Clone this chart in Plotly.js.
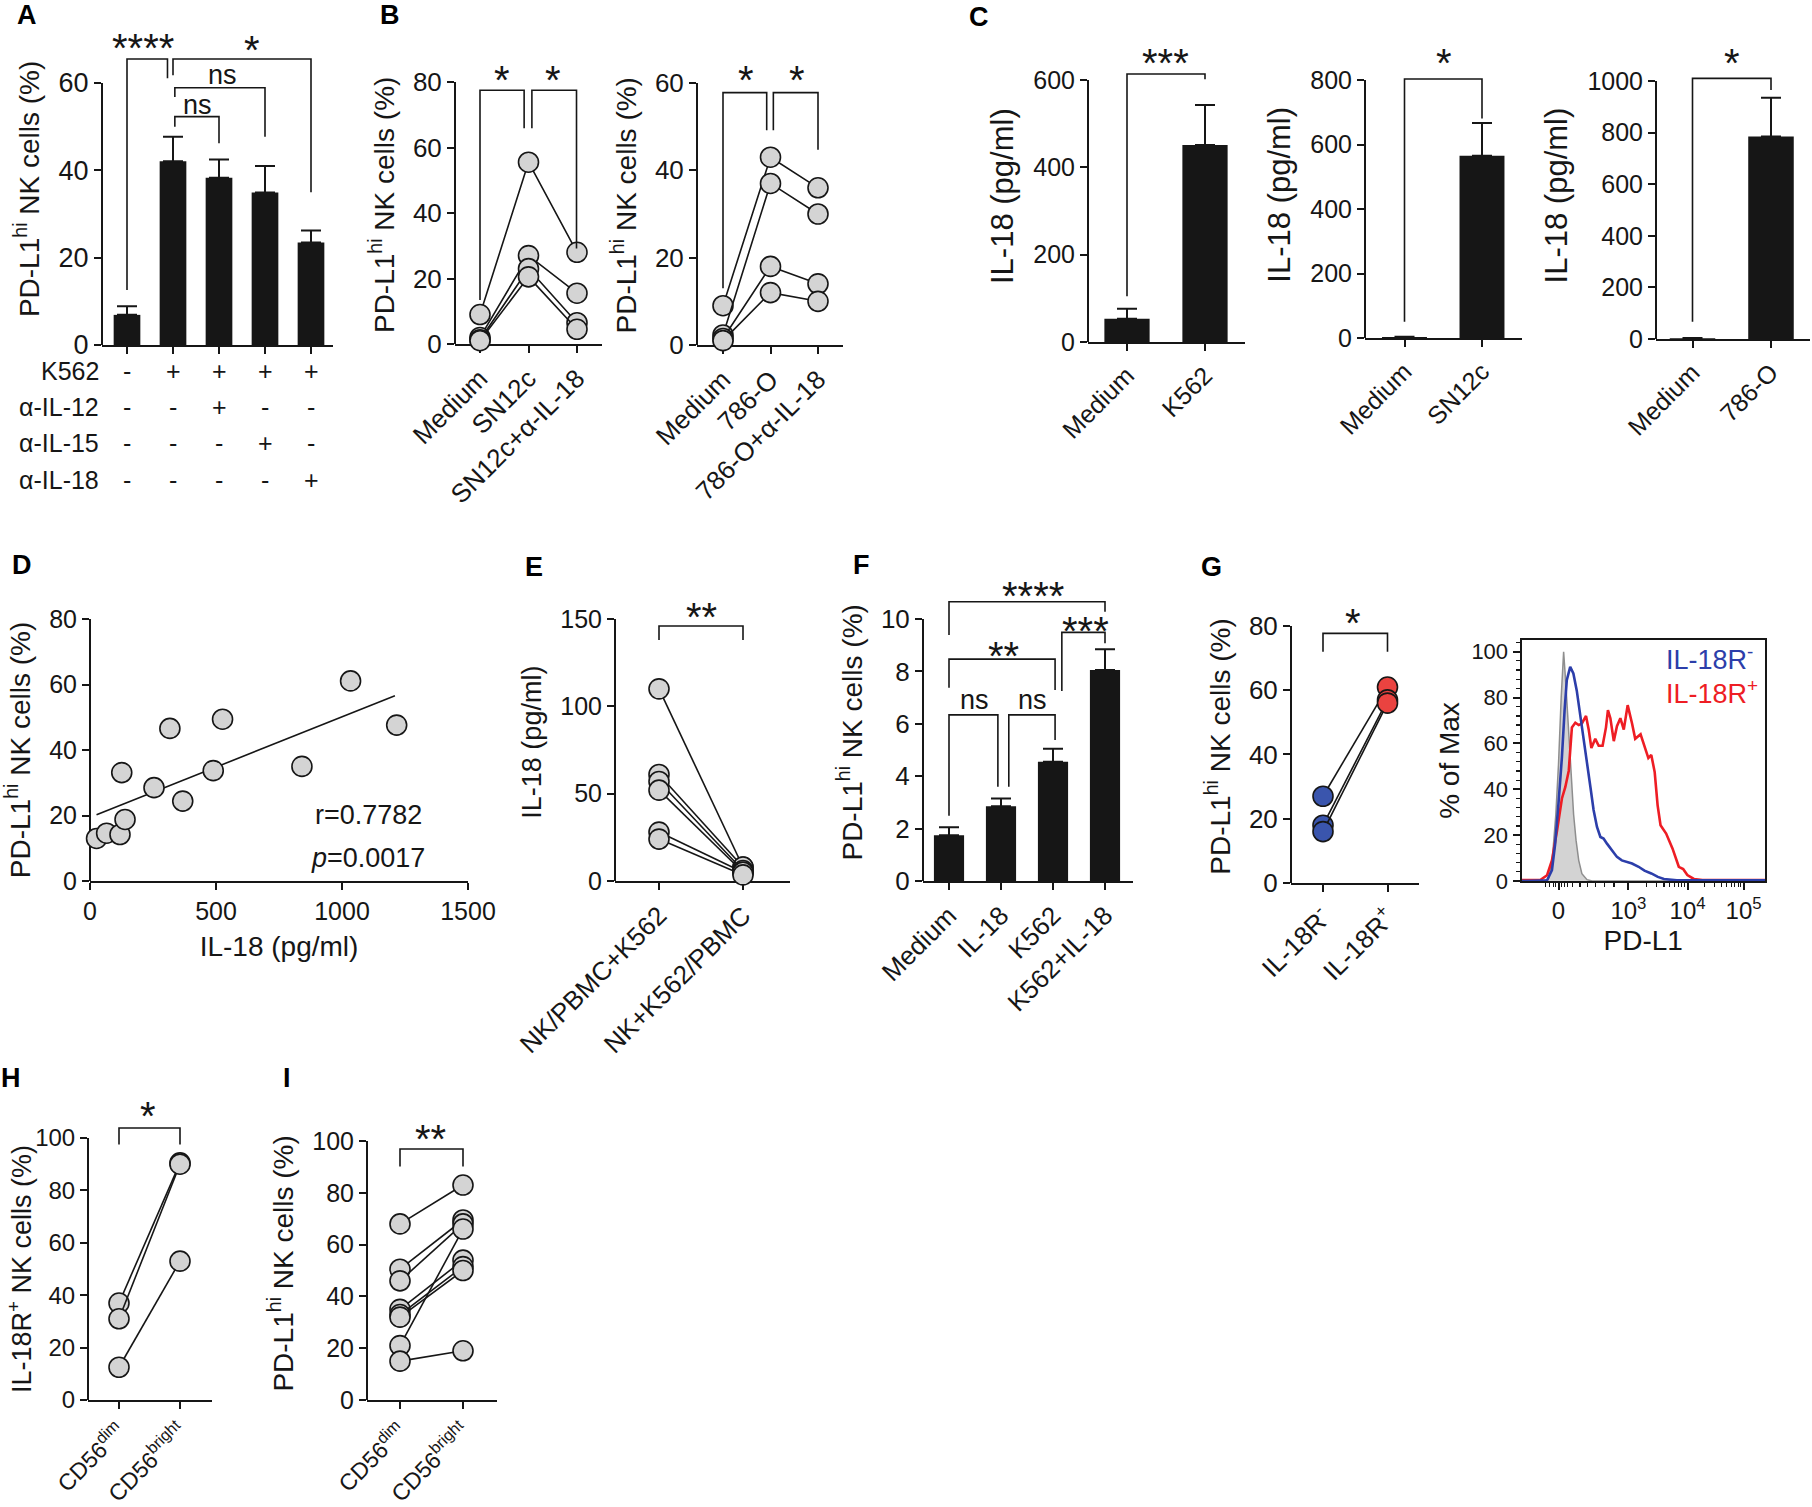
<!DOCTYPE html>
<html>
<head>
<meta charset="utf-8">
<script src="https://cdn.plot.ly/plotly-3.0.1.min.js"></script>
<style>html,body{margin:0;padding:0;background:#fff}#fig{width:1812px;height:1507px}</style>
</head>
<body>
<div id="fig"></div>
<script>
// ---------- values ----------
// A  PD-L1hi NK cells, K562 +/- blocking antibodies
const aMean = [6.9, 42.1, 38.3, 34.9, 23.5];
const aErr = [2.0, 5.6, 4.2, 6.1, 2.7];
const aRowNames = ['K562', 'α-IL-12', 'α-IL-15', 'α-IL-18'];
const aK562 = ['-', '+', '+', '+', '+'];
const aIL12 = ['-', '-', '+', '-', '-'];
const aIL15 = ['-', '-', '-', '+', '-'];
const aIL18 = ['-', '-', '-', '-', '+'];

// B  paired donors
const b1Cats = ['Medium', 'SN12c', 'SN12c+α-IL-18'];
const b1Medium = [9, 2, 1.3, 1];
const b1Tumor = [55.5, 27, 23, 20.5];
const b1Block = [28, 15.5, 6.5, 4.5];
const b2Cats = ['Medium', '786-O', '786-O+α-IL-18'];
const b2Medium = [9, 2.3, 1.5, 1];
const b2Tumor = [43, 37, 18, 12];
const b2Block = [36, 30, 14, 10];

// C  IL-18 in supernatant
const c1Cats = ['Medium', 'K562'];
const c1Mean = [53, 451];
const c1Err = [23, 92];
const c2Cats = ['Medium', 'SN12c'];
const c2Mean = [3, 565];
const c2Err = [1, 102];
const c3Cats = ['Medium', '786-O'];
const c3Mean = [3, 785];
const c3Err = [1, 150];

// D  correlation
const dIL18 = [26, 66, 119, 139, 126, 254, 317, 368, 489, 526, 841, 1034, 1217];
const dPDL1 = [13.0, 14.6, 14.2, 18.8, 33.1, 28.5, 46.6, 24.4, 33.7, 49.4, 35.0, 61.1, 47.6];
const dFitX = [26, 1210];
const dFitY = [20.2, 56.6];
const dStats = ['r=0.7782', '<i>p</i>=0.0017'];

// E
const eCats = ['NK/PBMC+K562', 'NK+K562/PBMC'];
const eMixed = [110, 61, 57, 52, 28, 24];
const eSeparated = [8, 8, 6, 5, 5, 3.5];

// F
const fCats = ['Medium', 'IL-18', 'K562', 'K562+IL-18'];
const fMean = [1.75, 2.85, 4.55, 8.05];
const fErr = [0.3, 0.3, 0.5, 0.8];

// G
const gCats = ['IL-18R<sup>-</sup>', 'IL-18R<sup>+</sup>'];
const gNeg = [27, 18, 16];
const gPos = [61, 57, 56];
// histogram, x in display units of the biexponential PD-L1 axis
const histTickVals = [15.2, 43.9, 68.2, 91.2];
const histTickText = ['0', '10<sup>3</sup>', '10<sup>4</sup>', '10<sup>5</sup>'];
const isoX = [0, 9, 11, 12.5, 14.1, 15.2, 16.3, 17.3, 18.2, 19.4, 20.5, 21.4, 22.4, 23.5, 24.8, 26.9, 29, 100];
const isoY = [0, 0, 0.8, 7.6, 29, 51, 80, 100, 86, 63, 44, 29, 17.8, 9, 3.2, 0.6, 0, 0];
const negX = [0, 9.5, 10.5, 12.5, 13.8, 15.2, 16.6, 17.7, 18.6, 20.0, 21.3, 22.7, 24.1, 25.5, 26.9, 28.3, 29.6, 31.0, 32.4, 33.7, 35.1, 37.1, 39.2, 41.2, 43.3, 45.4, 48.1, 50.5, 53.3, 56, 58.5, 63.8, 100];
const negY = [0, 0, 0.3, 4.7, 16, 34, 54, 74.5, 87.6, 93.4, 90.5, 83, 73, 61.4, 51, 41, 31, 23.6, 19.2, 18.5, 16.3, 13.4, 10.5, 9, 8.3, 7.6, 6.2, 4.5, 3.3, 1.8, 0.9, 0.3, 0.3];
const posX = [0, 7.7, 10.5, 12.5, 14.6, 16.6, 18.0, 19.4, 20.7, 22.1, 23.5, 24.8, 26.5, 27.6, 28.7, 30.3, 31.7, 33.3, 34.7, 35.5, 36.5, 37.9, 39.2, 40.6, 42.0, 43.6, 45.4, 46.7, 48.9, 50.7, 52.1, 53.3, 54.7, 55.9, 57.1, 59.4, 62.0, 64.6, 66.4, 68.1, 70.8, 74.3, 100];
const posY = [0.4, 0.4, 2.5, 9, 22, 36, 41, 48, 67, 69, 68, 68.7, 72, 66, 58, 62, 59, 59, 67, 74.5, 71, 61, 67.5, 71, 66, 76.7, 68.7, 62, 64, 57.7, 53.6, 55, 47.5, 33, 24.3, 20.7, 14.2, 6.2, 5.2, 2.6, 0.9, 0.4, 0.4];

// H, I
const hiCats = ['CD56<sup>dim</sup>', 'CD56<sup>bright</sup>'];
const hDim = [37, 31, 12.5];
const hBright = [90.5, 90, 53];
const iDim = [68, 50.5, 46, 35, 33, 32, 21, 15];
const iBright = [83, 69.5, 68, 54, 51.5, 50, 66, 19];

// ---------- drawing ----------
const W = 1812, H = 1507;
const INK = '#161616', GRAY = '#d4d4d4';
const FONT = 'Liberation Sans, Arial, Helvetica, sans-serif';
const PDL1 = 'PD-L1<sup>hi</sup> NK cells (%)';

const traces = [];
const layout = {
  width: W, height: H, margin: {l: 0, r: 0, t: 0, b: 0},
  paper_bgcolor: '#fff', plot_bgcolor: 'rgba(0,0,0,0)',
  showlegend: false, hovermode: false,
  font: {family: FONT, color: INK},
  shapes: [], annotations: []
};

const idx = arr => arr.map((_, i) => i);
const sfx = n => (n === 1 ? '' : String(n));

function addAxes(n, g) {
  const s = sfx(n);
  const ppu = (g.y0 - g.yt) / g.top;
  const topPx = g.y0 - g.ymax * ppu;
  const tf = {size: g.tick || 25, family: FONT, color: INK};
  const xa = {
    domain: [g.left / W, g.right / W], anchor: 'y' + s,
    showgrid: false, zeroline: false, showline: true, linecolor: INK, linewidth: 2,
    ticks: 'outside', ticklen: 7, tickwidth: 2, tickcolor: INK,
    tickfont: Object.assign({}, tf, g.xtick ? {size: g.xtick} : {}), layer: 'below traces'
  };
  if (g.cats) {
    xa.range = [(g.left - g.c0) / g.sp, (g.right - g.c0) / g.sp];
    xa.tickmode = 'array';
    xa.tickvals = idx(g.cats);
    xa.ticktext = g.cats;
    xa.tickangle = -45;
    if (g.noLabels) xa.showticklabels = false;
  } else {
    xa.range = g.xr;
    xa.tickmode = 'linear'; xa.tick0 = 0; xa.dtick = g.xdtick;
    xa.title = {text: g.xtitle, font: {size: 28}, standoff: 12};
  }
  layout['xaxis' + s] = xa;
  layout['yaxis' + s] = {
    domain: [1 - g.y0 / H, 1 - topPx / H], range: [0, g.ymax], anchor: 'x' + s,
    showgrid: false, zeroline: false, showline: false,
    ticks: 'outside', ticklen: 7, tickwidth: 2, tickcolor: INK,
    tickmode: 'linear', tick0: 0, dtick: g.dtick,
    tickfont: tf, layer: 'below traces',
    title: {text: g.ytitle || '', font: {size: g.tsize || 28}, standoff: 10}
  };
  // Prism-style y axis line that stops at the top tick
  layout.shapes.push({type: 'line', layer: 'below', xref: 'paper', yref: 'y' + s,
    x0: g.left / W, x1: g.left / W, y0: 0, y1: g.top, line: {color: INK, width: 2}});
}

function bars(n, mean, err) {
  const s = sfx(n);
  traces.push({type: 'bar', x: idx(mean), y: mean, xaxis: 'x' + s, yaxis: 'y' + s,
    width: 0.58, marker: {color: INK, line: {width: 0}},
    error_y: {type: 'data', symmetric: false, array: err, arrayminus: err.map(() => 0),
      color: INK, thickness: 2, width: 10}});
}

function pairs(n, cols, fill) {
  const s = sfx(n);
  for (let i = 0; i < cols[0].length; i++) {
    traces.push({type: 'scatter', mode: 'lines+markers', cliponaxis: false,
      x: cols.map((_, j) => j), y: cols.map(c => c[i]), xaxis: 'x' + s, yaxis: 'y' + s,
      line: {color: INK, width: 1.6},
      marker: {size: 20, color: fill ? cols.map((_, j) => fill[j]) : GRAY, line: {color: INK, width: 1.6}}});
  }
}

function bracket(n, x0, x1, yl, yt, yr) {
  const s = sfx(n);
  traces.push({type: 'scatter', mode: 'lines', x: [x0, x0, x1, x1], y: [yl, yt, yt, yr],
    xaxis: 'x' + s, yaxis: 'y' + s, line: {color: INK, width: 1.6}, hoverinfo: 'skip'});
}

function txt(n, x, y, text, size, extra) {
  const s = sfx(n);
  layout.annotations.push(Object.assign({xref: 'x' + s, yref: 'y' + s, x: x, y: y, text: text,
    showarrow: false, xanchor: 'center', yanchor: 'middle',
    font: {family: FONT, size: size || 25, color: INK}}, extra || {}));
}
const star = (n, x, y, t) => txt(n, x, y, t, 40, {yshift: -8});

function letter(t, x, y) {
  layout.annotations.push({xref: 'paper', yref: 'paper', x: x / W, y: 1 - y / H, text: '<b>' + t + '</b>',
    showarrow: false, xanchor: 'center', yanchor: 'middle', font: {family: FONT, size: 27, color: '#000'}});
}

// ---- A ----
addAxes(1, {left: 102, right: 333, c0: 127, sp: 46, y0: 345, yt: 83, top: 60, ymax: 71.5, dtick: 20,
  cats: aMean.map(() => ''), noLabels: true, tick: 27, ytitle: PDL1});
bars(1, aMean, aErr);
bracket(1, 0, 0.88, 12.6, 65.5, 61.1);
bracket(1, 1, 4, 61.8, 65.5, 35.0);
bracket(1, 1.04, 3, 56.8, 58.9, 47.7);
bracket(1, 1.04, 2, 50.0, 52.3, 46.2);
star(1, 0.35, 69.8, '****');
star(1, 2.72, 69.4, '*');
txt(1, 2.08, 61.8, 'ns', 27);
txt(1, 1.53, 55.0, 'ns', 27);
[aK562, aIL12, aIL15, aIL18].forEach((row, r) => {
  const py = 1 - [371, 407, 443, 480][r] / H;
  layout.annotations.push({xref: 'paper', yref: 'paper', x: 101 / W, y: py, text: aRowNames[r],
    showarrow: false, xanchor: 'right', yanchor: 'middle', font: {family: FONT, size: 25, color: INK}});
  row.forEach((sign, i) => layout.annotations.push({xref: 'x', yref: 'paper', x: i, y: py, text: sign,
    showarrow: false, xanchor: 'center', yanchor: 'middle', font: {family: FONT, size: 25, color: INK}}));
});

// ---- B ----
addAxes(2, {left: 455, right: 602, c0: 480, sp: 48.5, y0: 344, yt: 82, top: 80, ymax: 85, dtick: 20,
  cats: b1Cats, tick: 26, ytitle: PDL1});
pairs(2, [b1Medium, b1Tumor, b1Block]);
bracket(2, 0, 0.91, 13.4, 77.5, 65.9);
bracket(2, 1.07, 1.99, 65.9, 77.5, 29.2);
star(2, 0.45, 83, '*');
star(2, 1.51, 83, '*');

addAxes(3, {left: 697, right: 843, c0: 723, sp: 47.5, y0: 345, yt: 83, top: 60, ymax: 64, dtick: 20,
  cats: b2Cats, tick: 26, ytitle: PDL1});
pairs(3, [b2Medium, b2Tumor, b2Block]);
bracket(3, 0, 0.92, 13.0, 57.8, 49.2);
bracket(3, 1.06, 2, 49.2, 57.8, 44.7);
star(3, 0.48, 62.6, '*');
star(3, 1.55, 62.6, '*');

// ---- C ----
addAxes(4, {left: 1088, right: 1245, c0: 1127, sp: 78, y0: 342, yt: 80, top: 600, ymax: 668, dtick: 200,
  cats: c1Cats, tick: 25, tsize: 31, ytitle: 'IL-18 (pg/ml)'});
bars(4, c1Mean, c1Err);
bracket(4, 0, 1, 105, 613.7, 602);
star(4, 0.49, 657, '***');

addAxes(5, {left: 1365, right: 1522, c0: 1404.5, sp: 77.5, y0: 338, yt: 80, top: 800, ymax: 888, dtick: 200,
  cats: c2Cats, tick: 25, tsize: 31, ytitle: 'IL-18 (pg/ml)'});
bars(5, c2Mean, c2Err);
bracket(5, 0, 1, 50.6, 803, 681);
star(5, 0.51, 877, '*');

addAxes(6, {left: 1656, right: 1810, c0: 1692.5, sp: 78.5, y0: 339, yt: 81, top: 1000, ymax: 1112, dtick: 200,
  cats: c3Cats, tick: 25, tsize: 31, ytitle: 'IL-18 (pg/ml)'});
bars(6, c3Mean, c3Err);
bracket(6, 0, 1, 67, 1010, 965);
star(6, 0.5, 1101, '*');

// ---- D ----
addAxes(7, {left: 90, right: 468, xr: [0, 1500], xdtick: 500, y0: 881, yt: 619, top: 80, ymax: 80, dtick: 20,
  tick: 25, ytitle: PDL1, xtitle: 'IL-18 (pg/ml)'});
traces.push({type: 'scatter', mode: 'lines', x: dFitX, y: dFitY, xaxis: 'x7', yaxis: 'y7',
  line: {color: INK, width: 1.6}});
traces.push({type: 'scatter', mode: 'markers', cliponaxis: false, x: dIL18, y: dPDL1, xaxis: 'x7', yaxis: 'y7',
  marker: {size: 20, color: GRAY, line: {color: INK, width: 1.6}}});
txt(7, 1107, 20.2, dStats[0], 27);
txt(7, 1103, 7.0, dStats[1], 27);

// ---- E ----
addAxes(8, {left: 615, right: 790, c0: 659, sp: 84, y0: 881, yt: 619, top: 150, ymax: 159, dtick: 50,
  cats: eCats, tick: 25, xtick: 26, tsize: 27, ytitle: 'IL-18 (pg/ml)'});
pairs(8, [eMixed, eSeparated]);
bracket(8, 0, 1, 138, 146, 138);
star(8, 0.51, 156, '**');

// ---- F ----
addAxes(9, {left: 923, right: 1133, c0: 949, sp: 52, y0: 881, yt: 619, top: 10, ymax: 11.35, dtick: 2,
  cats: fCats, tick: 26, ytitle: PDL1});
bars(9, fMean, fErr);
bracket(9, 0, 3, 9.39, 10.66, 10.28);
bracket(9, 2.17, 3, 7.25, 9.49, 9.07);
bracket(9, 0, 2.04, 7.38, 8.47, 7.29);
bracket(9, 0, 0.94, 2.49, 6.34, 3.6);
bracket(9, 1.15, 2.04, 3.6, 6.34, 5.38);
star(9, 1.61, 11.18, '****');
star(9, 2.62, 9.86, '***');
star(9, 1.04, 8.88, '**');
txt(9, 0.49, 6.91, 'ns', 27);
txt(9, 1.6, 6.91, 'ns', 27);

// ---- G ----
addAxes(10, {left: 1291, right: 1419, c0: 1323, sp: 64.5, y0: 883, yt: 626, top: 80, ymax: 85, dtick: 20,
  cats: gCats, tick: 26, ytitle: PDL1});
pairs(10, [gNeg, gPos], ['#3a55ad', '#ea4340']);
bracket(10, 0, 1, 72, 77.7, 72);
star(10, 0.47, 83.4, '*');

// histogram with a full frame
const hTop = 881 - 105.1 * (881 - 651.7) / 100;
const dec3 = [51.2, 55.5, 58.5, 60.9, 62.8, 64.4, 65.8, 67.1];
const dec4 = [75.1, 79.2, 82.0, 84.3, 86.1, 87.6, 89.0, 90.1];
const nearZero = [10, 11.5, 13, 14, 16.4, 17.5, 19, 21, 24, 27, 30.5, 34, 38];
layout.xaxis11 = {
  domain: [1521.5 / W, 1765 / W], range: [0, 100], anchor: 'y11',
  showgrid: false, zeroline: false, showline: true, mirror: true, linecolor: INK, linewidth: 2,
  ticks: 'outside', ticklen: 7, tickwidth: 2, tickcolor: INK,
  tickmode: 'array', tickvals: histTickVals, ticktext: histTickText,
  minor: {tickmode: 'array', tickvals: nearZero.concat(dec3, dec4), ticks: 'outside', ticklen: 4, tickwidth: 1.2, tickcolor: INK},
  tickfont: {size: 24, color: INK}, title: {text: 'PD-L1', font: {size: 28}, standoff: 8}
};
layout.yaxis11 = {
  domain: [1 - 881 / H, 1 - hTop / H], range: [0, 105.1], anchor: 'x11',
  showgrid: false, zeroline: false, showline: true, mirror: true, linecolor: INK, linewidth: 2,
  ticks: 'outside', ticklen: 7, tickwidth: 2, tickcolor: INK,
  tickmode: 'linear', tick0: 0, dtick: 20,
  minor: {dtick: 4, ticks: 'outside', ticklen: 4, tickwidth: 1.2, tickcolor: INK},
  tickfont: {size: 22, color: INK}, title: {text: '% of Max', font: {size: 28}, standoff: 4}
};
traces.push({type: 'scatter', mode: 'lines', x: isoX, y: isoY, xaxis: 'x11', yaxis: 'y11',
  fill: 'tozeroy', fillcolor: '#d3d3d3', line: {color: '#8e8e8e', width: 1.5}});
traces.push({type: 'scatter', mode: 'lines', x: posX, y: posY, xaxis: 'x11', yaxis: 'y11',
  line: {color: '#ee1d24', width: 2.6}});
traces.push({type: 'scatter', mode: 'lines', x: negX, y: negY, xaxis: 'x11', yaxis: 'y11',
  line: {color: '#2c3eaa', width: 2.6}});
layout.annotations.push({xref: 'paper', yref: 'paper', x: 1664 / W, y: 1 - 658 / H, text: 'IL-18R<sup>-</sup>',
  showarrow: false, xanchor: 'left', yanchor: 'middle', font: {size: 27, color: '#2c3eaa'}});
layout.annotations.push({xref: 'paper', yref: 'paper', x: 1664 / W, y: 1 - 692 / H, text: 'IL-18R<sup>+</sup>',
  showarrow: false, xanchor: 'left', yanchor: 'middle', font: {size: 27, color: '#ee1d24'}});

// ---- H ----
addAxes(12, {left: 88, right: 212, c0: 119, sp: 61, y0: 1400, yt: 1138, top: 100, ymax: 113, dtick: 20,
  cats: hiCats, tick: 24, xtick: 23});
// title set by hand: the automatic one is pushed against the tick labels at the page edge
layout.annotations.push({xref: 'paper', yref: 'paper', x: 20 / W, y: 1 - 1269 / H,
  text: 'IL-18R<sup>+</sup> NK cells (%)', textangle: -90, showarrow: false,
  xanchor: 'center', yanchor: 'middle', font: {family: FONT, size: 27, color: INK}});
pairs(12, [hDim, hBright]);
bracket(12, 0, 1, 97.5, 103.8, 97.5);
star(12, 0.48, 111.5, '*');

// ---- I ----
addAxes(13, {left: 367, right: 497, c0: 400, sp: 63, y0: 1400, yt: 1141, top: 100, ymax: 105.5, dtick: 20,
  cats: hiCats, tick: 25, xtick: 23, ytitle: PDL1});
pairs(13, [iDim, iBright]);
bracket(13, 0, 1, 90.2, 96.9, 90.2);
star(13, 0.48, 103.9, '**');

// panel letters
letter('A', 27, 15);
letter('B', 390, 15);
letter('C', 979, 17);
letter('D', 22, 565);
letter('E', 534, 567);
letter('F', 861, 565);
letter('G', 1211, 567);
letter('H', 11, 1078);
letter('I', 287, 1078);

Plotly.newPlot('fig', traces, layout, {staticPlot: true});
</script>
</body>
</html>
